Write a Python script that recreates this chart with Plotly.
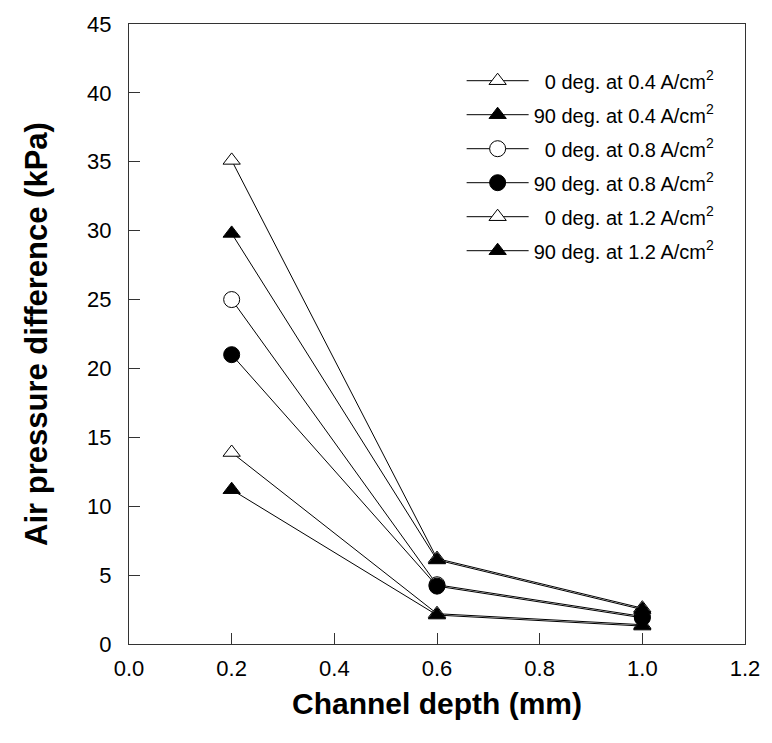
import plotly.graph_objects as go

depth = [0.2, 0.6, 1.0]
names = [
    "&nbsp;&nbsp;0 deg. at 0.4 A/cm<sup>2</sup>",
    "90 deg. at 0.4 A/cm<sup>2</sup>",
    "&nbsp;&nbsp;0 deg. at 0.8 A/cm<sup>2</sup>",
    "90 deg. at 0.8 A/cm<sup>2</sup>",
    "&nbsp;&nbsp;0 deg. at 1.2 A/cm<sup>2</sup>",
    "90 deg. at 1.2 A/cm<sup>2</sup>",
]
s0_04 = [13.9, 2.2, 1.4]
s90_04 = [11.2, 2.1, 1.3]
s0_08 = [25.0, 4.3, 2.0]
s90_08 = [21.0, 4.2, 1.9]
s0_12 = [35.1, 6.2, 2.6]
s90_12 = [29.8, 6.1, 2.5]
series = [s0_04, s90_04, s0_08, s90_08, s0_12, s90_12]
symbols = ["triangle-up", "triangle-up", "circle", "circle", "triangle-up", "triangle-up"]
fills = ["white", "black", "white", "black", "white", "black"]
sizes = [15, 15, 16, 16, 15, 15]

FONT = "Arial, Liberation Sans, sans-serif"

fig = go.Figure()
for i, (nm, ys) in enumerate(zip(names, series)):
    fig.add_trace(go.Scatter(
        x=depth, y=ys, name=nm, mode="lines+markers",
        legendgroup=f"g{i}",
        line=dict(color="black", width=1),
        marker=dict(symbol=symbols[i], size=sizes[i], color=fills[i],
                    line=dict(color="black", width=1)),
    ))

axis_common = dict(
    showline=True, linecolor="#333", linewidth=1, mirror=True,
    ticks="inside", ticklen=11, tickcolor="#333", tickwidth=1,
    showgrid=False, zeroline=False,
    tickfont=dict(family=FONT, size=22, color="black"),
)
fig.update_xaxes(range=[0, 1.2], tickvals=[0, 0.2, 0.4, 0.6, 0.8, 1.0, 1.2],
                 tickformat=".1f", ticklabelstandoff=5,
                 title=dict(text="<b>Channel depth (mm)</b>", standoff=12,
                            font=dict(family=FONT, size=30, color="black")),
                 **axis_common)
fig.update_yaxes(range=[0, 45], tickvals=list(range(0, 46, 5)),
                 ticklabelstandoff=12,
                 title=dict(text="<b>Air pressure difference (kPa)</b>", standoff=30,
                            font=dict(family=FONT, size=31, color="black")),
                 **axis_common)

fig.update_layout(
    width=772, height=743,
    margin=dict(l=129, r=17, t=18, b=99),
    plot_bgcolor="white", paper_bgcolor="white",
    showlegend=True,
    legend=dict(x=0.54, y=0.94, xanchor="left", yanchor="top",
                bgcolor="rgba(0,0,0,0)", itemwidth=62, tracegroupgap=5,
                font=dict(family=FONT, size=20, color="black")),
)
fig.write_html("out.html")
